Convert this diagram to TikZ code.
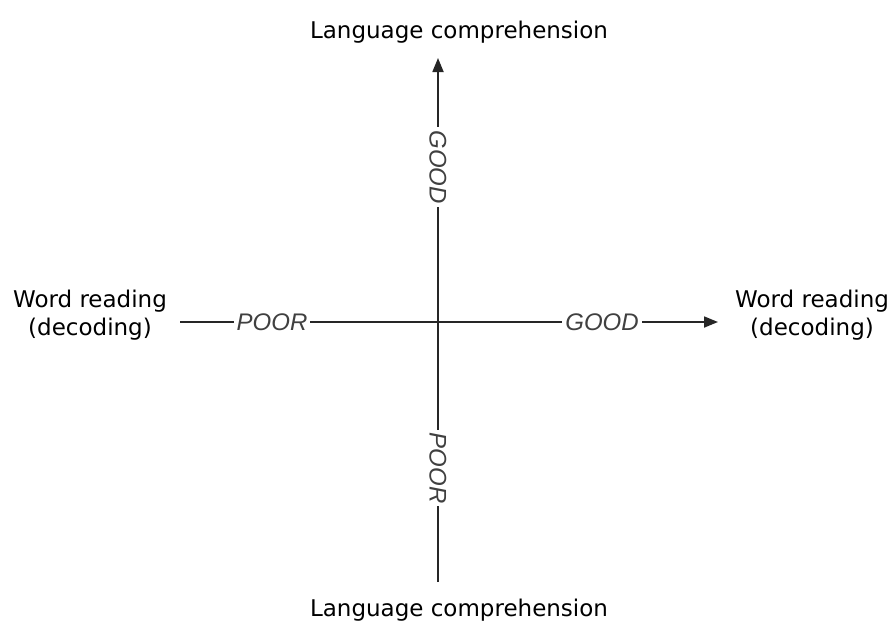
\documentclass[tikz,border=0pt]{standalone}
\usepackage{fontspec}
\setmainfont{DejaVu Sans}
\newfontfamily\axisfont{Liberation Sans}
\usetikzlibrary{arrows.meta}
\begin{document}
\begin{tikzpicture}[x=1pt,y=-1pt,
  lab/.style={font=\fontsize{23}{28}\selectfont, align=center},
  axl/.style={font=\axisfont\itshape\fontsize{24}{26}\selectfont, fill=white, inner sep=3pt, text=black!75},
  axis/.style={line width=1.8pt, black!85, -{Triangle[length=14pt,width=11pt]}}]
\useasboundingbox (0,0) rectangle (893,625);
\coordinate (L) at (180,322);
\coordinate (R) at (718,322);
\coordinate (B) at (438,582);
\coordinate (T) at (438,58);
\draw[axis] (L) -- (R);
\draw[axis] (B) -- (T);
\node[axl] (hp) at (272,322) {POOR};
\node[axl] (hg) at (602,322) {GOOD};
\node[axl, rotate=-90] (vg) at (438,167) {GOOD};
\node[axl, rotate=-90] (vp) at (438,468) {POOR};
\node[lab] (top) at (459,32) {Language comprehension};
\node[lab] (bot) at (459,610) {Language comprehension};
\node[lab] (left) at (90,315) {Word reading\\(decoding)};
\node[lab] (right) at (812,315) {Word reading\\(decoding)};
\end{tikzpicture}
\end{document}
